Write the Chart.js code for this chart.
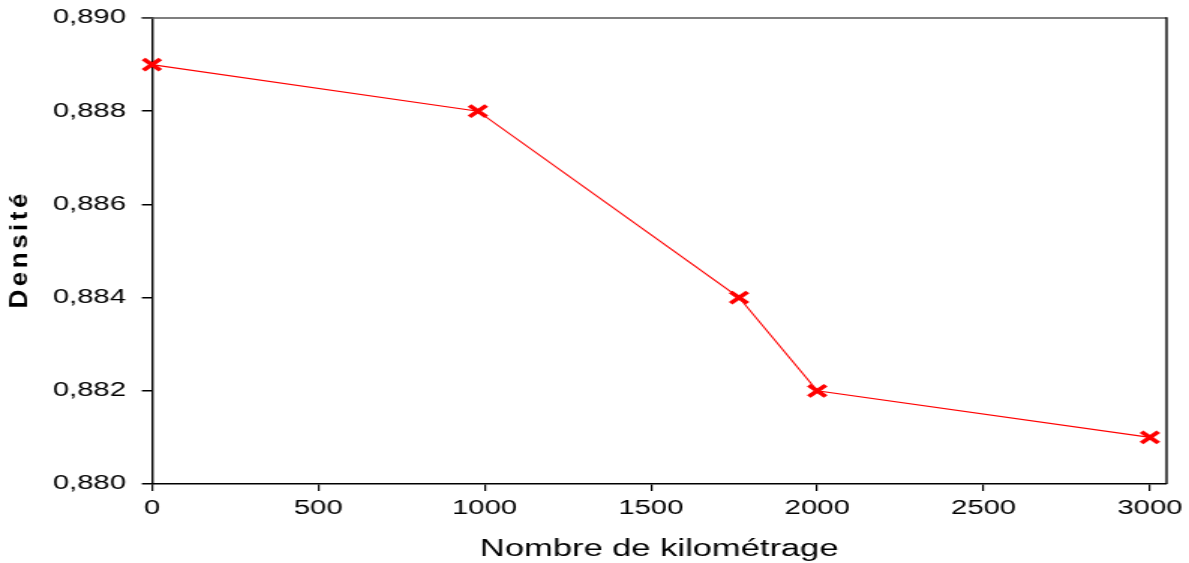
<!DOCTYPE html>
<html>
<head>
<meta charset="utf-8">
<script src="https://cdn.jsdelivr.net/npm/chart.js@4/dist/chart.umd.min.js"></script>
<style>
  html, body { margin: 0; padding: 0; background: #fff; overflow: hidden; }
  /* the reference picture is stretched sideways, so the canvas is drawn narrow and widened */
  #densite-chart { display: block; transform: scaleX(1.4994); transform-origin: 0 0; }
</style>
</head>
<body>
<canvas id="densite-chart" width="793" height="563"></canvas>
<script>
// kilometrage (x) et densite (y)
const kilometrage = [0, 980, 1765, 2000, 3000];
const densite = [0.889, 0.888, 0.884, 0.882, 0.881];
const xTicks = [0, 500, 1000, 1500, 2000, 2500, 3000];
const yTicks = [0.880, 0.882, 0.884, 0.886, 0.888, 0.890];
const xTitle = 'Nombre de kilométrage';
const yTitle = 'Densité';

const FONT = "'Liberation Sans', Arial, sans-serif";

// cadre haut (gris) + droite (noir), et titre vertical espacé
const framePlugin = {
  id: 'frame',
  afterDraw(chart) {
    const { ctx, chartArea } = chart;
    ctx.save();
    ctx.strokeStyle = '#555555';
    ctx.lineWidth = 1.6;
    ctx.beginPath();
    ctx.moveTo(chartArea.left - 6.7, chartArea.top);
    ctx.lineTo(chartArea.right, chartArea.top);
    ctx.stroke();
    ctx.strokeStyle = '#000000';
    ctx.lineWidth = 1.4;
    ctx.beginPath();
    ctx.moveTo(chartArea.right, chartArea.top - 0.8);
    ctx.lineTo(chartArea.right, chartArea.bottom);
    ctx.stroke();

    ctx.translate(13.5, (chartArea.top + chartArea.bottom) / 2);
    ctx.rotate(-Math.PI / 2);
    ctx.scale(1, 0.62);
    ctx.font = 'bold 26px ' + FONT;
    ctx.letterSpacing = '3.5px';
    ctx.fillStyle = '#000';
    ctx.textAlign = 'center';
    ctx.textBaseline = 'middle';
    ctx.fillText(yTitle, 1.75, 0);
    ctx.restore();
  }
};

new Chart(document.getElementById('densite-chart'), {
  type: 'scatter',
  data: {
    datasets: [{
      label: yTitle,
      data: kilometrage.map((km, i) => ({ x: km, y: densite[i] })),
      showLine: true,
      clip: false,
      borderColor: '#ff0000',
      borderWidth: 1.1,
      pointStyle: 'crossRot',
      pointRadius: 8,
      pointHoverRadius: 8,
      pointBorderWidth: 3.5,
      pointBorderColor: '#ff0000',
      pointBackgroundColor: '#ff0000',
    }]
  },
  options: {
    responsive: false,
    animation: false,
    devicePixelRatio: 1,
    layout: { autoPadding: false, padding: { left: 0, top: 18, right: 15, bottom: 0 } },
    plugins: {
      legend: { display: false },
      tooltip: { enabled: false },
    },
    scales: {
      x: {
        type: 'linear',
        min: 0,
        max: 3050,
        afterFit(scale) {
          scale.height = 79;
          scale.paddingLeft = 0;
          scale.paddingRight = 0;
        },
        afterBuildTicks(scale) { scale.ticks = xTicks.map(v => ({ value: v })); },
        border: { display: true, color: '#000', width: 1.5 },
        grid: { display: true, drawOnChartArea: false, drawTicks: true, tickLength: 7, color: '#000', lineWidth: 1.2 },
        ticks: {
          padding: 6,
          color: '#000',
          autoSkip: false,
          font: { family: FONT, size: 19.5 },
          maxRotation: 0,
          callback: v => String(v),
        },
        title: {
          display: true,
          text: xTitle,
          color: '#000',
          font: { family: FONT, size: 23 },
          padding: { top: 0, bottom: 0 },
        },
      },
      y: {
        type: 'linear',
        min: 0.880,
        max: 0.890,
        afterFit(scale) {
          scale.width = 101.3;
          scale.paddingTop = 0;
          scale.paddingBottom = 0;
        },
        afterBuildTicks(scale) { scale.ticks = yTicks.map(v => ({ value: v })); },
        border: { display: true, color: '#000', width: 1.4 },
        grid: { display: true, drawOnChartArea: false, drawTicks: true, tickLength: 6.7, color: '#000', lineWidth: 1.5 },
        ticks: {
          padding: 10.6,
          color: '#000',
          autoSkip: false,
          font: { family: FONT, size: 19.5 },
          callback: v => v.toFixed(3).replace('.', ','),
        },
      },
    },
  },
  plugins: [framePlugin],
});
</script>
</body>
</html>
